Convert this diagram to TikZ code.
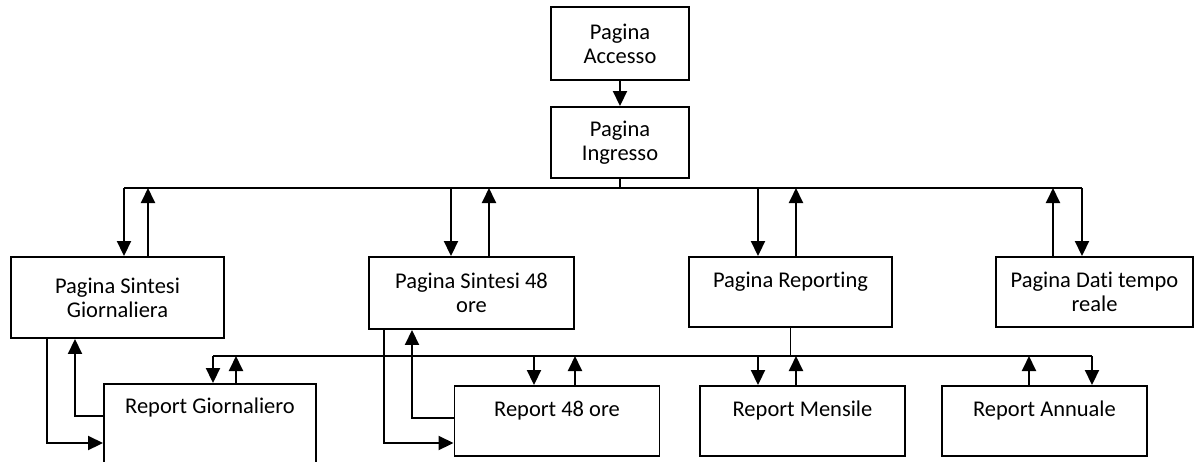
\documentclass[tikz,border=0pt]{standalone}
\usepackage{fontspec}
\setmainfont{Carlito}[Ligatures=NoCommon]
\usetikzlibrary{arrows.meta}

\begin{document}
\begin{tikzpicture}[x=0.02cm, y=-0.02cm, line width=1.1pt,
	box/.style 2 args={draw, inner sep=0pt, align=center,
		font=\fontsize{12.8}{13.7}\selectfont,
		minimum width=#1*0.02cm, minimum height=#2*0.02cm},
	arr/.style={-{Triangle[width=0.28cm,length=0.3cm]}}]

	\useasboundingbox (0,0) rectangle (1194,461);
	\clip (0,0) rectangle (1194,461);

	% pages
	\node[box={138}{73}] (acc) at (620,43.5) {Pagina\\Accesso};
	\node[box={138}{71}] (ing) at (620,142.5) {Pagina\\Ingresso};

	\node[box={213}{81}] (sg) at (117.5,297.5) {Pagina Sintesi\\Giornaliera};
	\node[box={205}{72}] (s48) at (471.5,293) {Pagina Sintesi 48\\ore};
	\node[box={203}{70}] (rep) at (790.5,292) {Pagina Reporting\\\mbox{}};
	\node[box={197}{70}] (dtr) at (1094.5,292) {Pagina Dati tempo\\reale};

	% reports
	\node[box={212}{92}] (rg) at (210,430) {Report Giornaliero\\\mbox{}\\\mbox{}};
	\node[box={205}{70}] (r48) at (557,421) {Report 48 ore\\\mbox{}};
	\node[box={205}{70}] (rm) at (802.5,421) {Report Mensile\\\mbox{}};
	\node[box={205}{70}] (ra) at (1044.5,421) {Report Annuale\\\mbox{}};

	\draw[arr] (acc) -- (ing);

	% upper bus
	\coordinate (u1) at (124,188);
	\coordinate (u2) at (148,188);
	\coordinate (u3) at (451,188);
	\coordinate (u4) at (489,188);
	\coordinate (u5) at (758,188);
	\coordinate (u6) at (796,188);
	\coordinate (u7) at (1053,188);
	\coordinate (u8) at (1082,188);

	\draw (u1) -- (u8);
	\draw (ing.south) -- (ing.south |- u1);

	\draw[arr] (u1) -- (u1 |- sg.north);
	\draw[arr] (u2 |- sg.north) -- (u2);
	\draw[arr] (u3) -- (u3 |- s48.north);
	\draw[arr] (u4 |- s48.north) -- (u4);
	\draw[arr] (u5) -- (u5 |- rep.north);
	\draw[arr] (u6 |- rep.north) -- (u6);
	\draw[arr] (u7 |- dtr.north) -- (u7);
	\draw[arr] (u8) -- (u8 |- dtr.north);

	% lower bus
	\coordinate (l1) at (213,356);
	\coordinate (l2) at (236,356);
	\coordinate (l3) at (534,356);
	\coordinate (l4) at (575,356);
	\coordinate (l5) at (758,356);
	\coordinate (l6) at (796,356);
	\coordinate (l7) at (1029,356);
	\coordinate (l8) at (1092,356);

	\draw (l1) -- (l8);
	\draw (rep.south) -- (rep.south |- l1);

	\draw[arr] (l1) -- (l1 |- rg.north);
	\draw[arr] (l2 |- rg.north) -- (l2);
	\draw[arr] (l3) -- (l3 |- r48.north);
	\draw[arr] (l4 |- r48.north) -- (l4);
	\draw[arr] (l5) -- (l5 |- rm.north);
	\draw[arr] (l6 |- rm.north) -- (l6);
	\draw[arr] (l7 |- ra.north) -- (l7);
	\draw[arr] (l8) -- (l8 |- ra.north);

	% side links
	\coordinate (g1) at (47,443);
	\coordinate (g2) at (75,416);
	\draw[arr] (g1 |- sg.south) -- (g1) -- (g1 -| rg.west);
	\draw[arr] (g2 -| rg.west) -- (g2) -- (g2 |- sg.south);

	\coordinate (h1) at (384,443);
	\coordinate (h2) at (412,418);
	\draw[arr] (h1 |- s48.south) -- (h1) -- (h1 -| r48.west);
	\draw[arr] (h2 -| r48.west) -- (h2) -- (h2 |- s48.south);

\end{tikzpicture}
\end{document}
